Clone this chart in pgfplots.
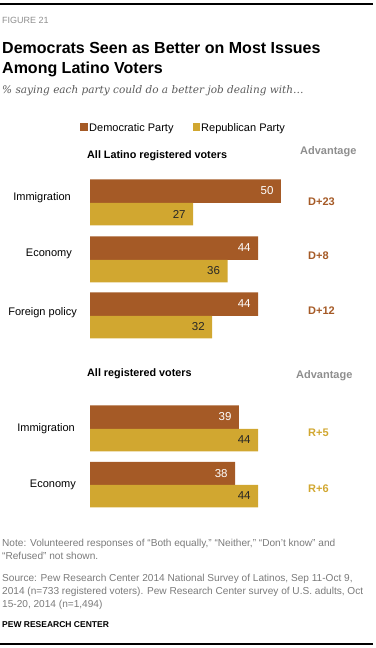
\documentclass[border=0pt]{standalone}
\usepackage{fontspec}
\setmainfont{Liberation Sans}
\newfontfamily\subserif{DejaVu Serif}
\usepackage{pgfplots}
\pgfplotsset{compat=1.18}
\definecolor{dem}{HTML}{A55A26}
\definecolor{rep}{HTML}{D1A730}
\definecolor{advgray}{HTML}{8E8E8E}
\definecolor{notegray}{HTML}{7A7A7A}
\definecolor{subgray}{HTML}{5A5A5A}
\newcommand{\fs}[1]{\fontsize{#1}{#1}\selectfont}

\begin{document}
\begin{tikzpicture}[x=1pt,y=1pt]
\useasboundingbox (0,0) rectangle (375,-648);
% rules
\draw[line width=1.1pt] (0,-4) -- (373,-4);
\draw[line width=1.1pt] (0,-644) -- (373,-644);
% header texts
\node[anchor=base west, inner sep=0, text=advgray] at (2,-23) {\fs{9}FIGURE 21};
\node[anchor=base west, inner sep=0] at (2,-53) {\fs{16}\bfseries Democrats Seen as Better on Most Issues};
\node[anchor=base west, inner sep=0] at (2,-73) {\fs{16}\bfseries Among Latino Voters};
\node[anchor=base west, inner sep=0, text=subgray] at (2,-93) {\fs{10.5}\subserif\itshape \% saying each party could do a better job dealing with\dots};
% legend
\fill[dem] (80,-123) rectangle (87.5,-131);
\node[anchor=base west, inner sep=0] at (89,-131) {\fs{11}Democratic Party};
\fill[rep] (192.5,-123) rectangle (199.5,-131);
\node[anchor=base west, inner sep=0] at (201,-131) {\fs{11}Republican Party};
% section headers
\node[anchor=base west, inner sep=0] at (87,-158) {\fs{10.8}\bfseries All Latino registered voters};
\node[anchor=base west, inner sep=0, text=advgray] at (300,-154) {\fs{11}\bfseries Advantage};
\node[anchor=base west, inner sep=0] at (87,-376) {\fs{10.8}\bfseries All registered voters};
\node[anchor=base west, inner sep=0, text=advgray] at (296,-378) {\fs{11}\bfseries Advantage};
% category labels
\node[anchor=base east, inner sep=0] at (71,-200) {\fs{11}Immigration};
\node[anchor=base east, inner sep=0] at (72,-256) {\fs{11}Economy};
\node[anchor=base east, inner sep=0] at (77,-315) {\fs{11}Foreign policy};
\node[anchor=base east, inner sep=0] at (75,-431) {\fs{11}Immigration};
\node[anchor=base east, inner sep=0] at (76,-487) {\fs{11}Economy};
% advantage labels
\node[anchor=base west, inner sep=0, text=dem] at (308,-205) {\fs{11}\bfseries D+23};
\node[anchor=base west, inner sep=0, text=dem] at (308,-259) {\fs{11}\bfseries D+8};
\node[anchor=base west, inner sep=0, text=dem] at (308,-314) {\fs{11}\bfseries D+12};
\node[anchor=base west, inner sep=0, text=rep] at (308,-436) {\fs{11}\bfseries R+5};
\node[anchor=base west, inner sep=0, text=rep] at (308,-492) {\fs{11}\bfseries R+6};
% bars
\begin{axis}[at={(90pt,-170pt)}, anchor=north west, scale only axis,
  width=191pt, height=345pt, xmin=0, xmax=50, ymin=170, ymax=515,
  y dir=reverse, hide axis, clip=false,
  /pgf/number format/assume math mode=true]
\addplot[xbar, bar width=23.5, bar shift=0pt, fill=dem, draw=none,
  nodes near coords,
  every node near coord/.append style={anchor=east, xshift=-4pt, text=white, font=\fs{11.5}}]
  coordinates {(50,191) (44,248) (44,304) (39,417) (38,473.5)};
\addplot[xbar, bar width=22.5, bar shift=0pt, fill=rep, draw=none,
  nodes near coords,
  every node near coord/.append style={anchor=east, xshift=-4pt, text=black!85, font=\fs{11.5}}]
  coordinates {(27,214) (36,271) (32,327) (44,440) (44,496)};
\end{axis}
% notes
\node[anchor=base west, inner sep=0, text=notegray] at (2,-546) {\fs{10.1}Note: Volunteered responses of “Both equally,” “Neither,” “Don’t know” and};
\node[anchor=base west, inner sep=0, text=notegray] at (2,-559) {\fs{10.1}“Refused” not shown.};
\node[anchor=base west, inner sep=0, text=notegray] at (2,-581) {\fs{10.1}Source: Pew Research Center 2014 National Survey of Latinos, Sep 11-Oct 9,};
\node[anchor=base west, inner sep=0, text=notegray] at (2,-594) {\fs{10.1}2014 (n=733 registered voters). Pew Research Center survey of U.S. adults, Oct};
\node[anchor=base west, inner sep=0, text=notegray] at (2,-607) {\fs{10.1}15-20, 2014 (n=1,494)};
\node[anchor=base west, inner sep=0] at (2,-627) {\fs{8.5}\bfseries PEW RESEARCH CENTER};
\end{tikzpicture}
\end{document}
